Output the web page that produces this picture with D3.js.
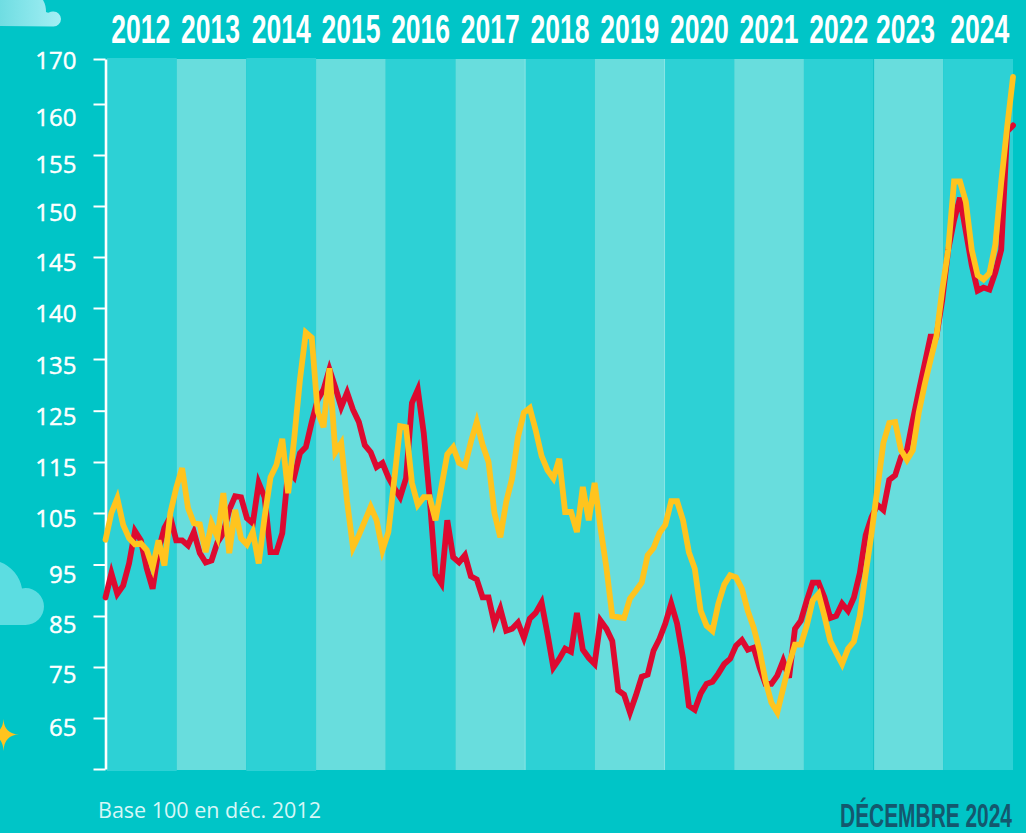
<!DOCTYPE html>
<html>
<head>
<meta charset="utf-8">
<script src="https://cdn.jsdelivr.net/npm/d3@7"></script>
<style>
  html, body { margin: 0; padding: 0; background: #00c5c7; overflow: hidden; }
  svg { display: block; }
  .head { font-family: "Liberation Sans Narrow", "Liberation Sans", sans-serif; font-weight: 700; }
  .num { font-family: "Open Sans", sans-serif; }
</style>
</head>
<body>
<div id="chart"></div>
<script>
const years = [2012, 2013, 2014, 2015, 2016, 2017, 2018, 2019, 2020, 2021, 2022, 2023, 2024];
const yTicks = [170, 160, 155, 150, 145, 140, 135, 125, 115, 105, 95, 85, 75, 65, 55];

const redValues = [
  88.6, 93.3, 89.3, 90.9, 95.2, 101.5, 99.7, 94.2, 90.3, 97.8, 102.1, 104.2,
  99.7, 99.7, 98.7, 101.3, 97.2, 95.4, 95.8, 99.3, 101.1, 105.6, 108.3, 108.1,
  104, 103, 110.9, 108.1, 97.4, 97.4, 101.1, 113.4, 112, 116.7, 117.9, 122.8,
  127.1, 129.1, 133, 129.5, 125.7, 128.5, 125.2, 122.8, 118.3, 116.9, 114, 114.8,
  112, 109.9, 108.1, 111.8, 126.5, 129.1, 120.7, 108.1, 93.1, 91.3, 103.6, 96.4,
  95.4, 96.8, 92.7, 92.1, 88.6, 88.6, 83.5, 86.4, 82.1, 82.5, 83.7, 80.7,
  84.5, 85.6, 87.6, 81.5, 74.9, 76.6, 78.6, 78, 85.6, 78.4, 76.8, 75.6,
  84.1, 82.5, 80.1, 70.4, 69.6, 66.1, 69.4, 73.1, 73.5, 78.2, 80.5, 83.5,
  87.4, 83.5, 76.8, 67.4, 66.6, 69.8, 71.7, 72.1, 73.7, 75.6, 76.6, 79.2,
  80.3, 78.4, 78.8, 74.9, 71.7, 71.7, 73.3, 76.2, 72.9, 82.5, 84.1, 88,
  91.5, 91.5, 88.6, 84.6, 85, 87.4, 86, 88.6, 93.3, 100.7, 104.2, 106.6,
  105.6, 111.5, 112.4, 116, 117.3, 123.2, 128.7, 134, 137.2, 137.2, 140.8, 145.7,
  148.6, 150.8, 147.5, 144.2, 141.7, 142, 141.8, 143.5, 145.7, 157.3, 157.9
];

const yellowValues = [
  99.8, 105, 107.9, 102.7, 100.1, 98.9, 99.1, 97.8, 94.4, 99.7, 94.8, 105,
  109.9, 113.8, 106, 103, 102.8, 97.4, 103, 100.3, 108.9, 97.2, 105.6, 100.1,
  98.9, 101.3, 95.2, 104.2, 112, 114.4, 119.5, 108.9, 119.3, 131, 137.6, 137.1,
  124.8, 121.8, 133.2, 116.9, 118.7, 107.2, 98.3, 100.7, 103.4, 106.2, 103.6, 97.8,
  101.3, 111.5, 122, 121.8, 110.9, 106.6, 108.1, 108.1, 103.6, 110.1, 116.5, 117.9,
  114.8, 114.2, 118.9, 122.8, 118.3, 115, 105, 100.3, 107.2, 111.8, 119.9, 124.6,
  125.5, 121.2, 116.2, 113.4, 111.8, 115.6, 105.2, 105.2, 101.3, 110.1, 103.6, 110.9,
  102.1, 94.4, 85, 84.8, 84.6, 88.4, 89.9, 91.5, 96.8, 98.2, 101.1, 102.7,
  107.3, 107.3, 103.6, 97.4, 94.2, 86, 83.1, 82.1, 87.4, 91.1, 92.9, 92.5,
  90.3, 86, 82.7, 78.2, 72.3, 68, 66.1, 70.8, 75.6, 79.4, 79.4, 83.1,
  88, 89.3, 85, 80.1, 77.8, 75.6, 78.6, 80, 85, 93.3, 101.1, 109.9,
  118.7, 122.6, 122.8, 117.3, 115.4, 117.3, 124.6, 130, 134.8, 137.2, 141.8, 145.7,
  152.4, 152.4, 150.4, 145.7, 143.2, 142.8, 143.4, 146.2, 152.3, 157.7, 166
];

const width = 1026;
const height = 833;

const svg = d3.select("#chart").append("svg")
  .attr("width", width)
  .attr("height", height)
  .attr("viewBox", [0, 0, width, height]);

// the printed axis is not regular: 170 to 160 is shorter, and steps are 5 then 10
const y = d3.scaleLinear()
  .domain(yTicks)
  .range([59, 104, 155, 206, 257, 308, 359, 410.7, 462, 513, 564.5, 616, 667, 718, 769]);

const x = d3.scaleLinear().domain([0, redValues.length - 1]).range([105.5, 1013]);
const band = d3.scaleBand().domain(years).range([107, 1013]);

// decoration
const defs = svg.append("defs");
const grad = defs.append("linearGradient").attr("id", "cloudTop");
grad.append("stop").attr("offset", "0%").attr("stop-color", "#6fdde2");
grad.append("stop").attr("offset", "100%").attr("stop-color", "#a3eff4");

svg.append("path")
  .attr("fill", "url(#cloudTop)")
  .attr("d", "M0,26 L0,0 L43,0 Q46,5 46,12 Q48,13 49,12.5 A7.5,7.5 0 0 1 53.5,11.5 A7.5,7.5 0 0 1 53.5,26.5 Z");
svg.append("path")
  .attr("fill", "#5cdde1")
  .attr("d", "M0,625 L0,562 A35,35 0 0 1 22,588.5 L25.5,588 A18.5,18.5 0 0 1 25.5,625 Z");
svg.append("path")
  .attr("fill", "#ffc41e")
  .attr("d", "M3.5,719 Q4.2,734 19,734.5 Q4.2,735 3.5,751 Q2.8,735 -12,734.5 Q2.8,734 3.5,719 Z");

// year bands, the dark 2012 and 2014 ones stick out by a pixel
svg.append("g")
  .selectAll("rect")
  .data(years)
  .join("rect")
  .attr("x", (d) => band(d))
  .attr("y", (d) => (d === 2012 || d === 2014 ? 58 : 59))
  .attr("width", band.bandwidth())
  .attr("height", (d) => (d === 2012 || d === 2014 ? 713 : 711))
  .attr("fill", (d, i) => (i % 2 ? "#68dddd" : "#2dd1d5"));

// hairlines left between some bands
svg.append("line")
  .attr("x1", band(2023)).attr("x2", band(2023))
  .attr("y1", 59).attr("y2", 770)
  .attr("stroke", "#14c2c6").attr("stroke-width", 1);
svg.append("g")
  .selectAll("line")
  .data([2018, 2020])
  .join("line")
  .attr("x1", (d) => band(d)).attr("x2", (d) => band(d))
  .attr("y1", 59).attr("y2", 770)
  .attr("stroke", "#8ce6e6").attr("stroke-width", 1);

// stretched narrow type stands in for the poster font
function fitText(sel, targetWidth, scaleY) {
  sel.each(function () {
    const t = d3.select(this);
    const sx = targetWidth / this.getComputedTextLength();
    t.attr("transform", `${t.attr("transform")} scale(${sx},${scaleY})`);
  });
}

const labelShift = { 2012: -1, 2013: -1, 2023: -3, 2024: 1.5 };

svg.append("g")
  .selectAll("text")
  .data(years)
  .join("text")
  .attr("class", "head")
  .attr("transform", (d) => `translate(${band(d) + band.bandwidth() / 2 + (labelShift[d] || 0)},43)`)
  .attr("text-anchor", "middle")
  .attr("font-size", 28)
  .attr("fill", "#fff")
  .text((d) => d)
  .call(fitText, 59, 1.42);

// axis
const labelDy = { 170: 1, 160: 13, 155: 9, 150: 6, 145: 5, 140: 5, 135: 6, 125: 5, 115: 5, 105: 5, 95: 10, 85: 8, 75: 7, 65: 9, 55: 0 };

const axis = svg.append("g")
  .attr("transform", "translate(105.5,0)")
  .call(
    d3.axisLeft(y)
      .tickValues(yTicks)
      .tickSize(12)
      .tickSizeOuter(0)
      .tickPadding(17)
      .tickFormat((d) => (d === 55 ? "" : d))
  );
axis.select(".domain").attr("stroke", "#fff").attr("stroke-width", 2.6);
axis.selectAll(".tick line").attr("stroke", "#fff").attr("stroke-width", 2);
axis.selectAll(".tick text")
  .attr("class", "num")
  .attr("fill", "#fff")
  .attr("stroke", "#fff")
  .attr("stroke-width", 0.45)
  .attr("font-size", 24)
  .attr("dy", "0.35em")
  .attr("transform", (d) => `translate(0,${labelDy[d]})`);

// lines
const line = d3.line().x((d, i) => x(i)).y((d) => y(d));

svg.append("path")
  .datum(redValues)
  .attr("fill", "none")
  .attr("stroke", "#dd0a30")
  .attr("stroke-width", 5.8)
  .attr("stroke-linecap", "round")
  .attr("stroke-linejoin", "miter")
  .attr("d", line);

svg.append("path")
  .datum(yellowValues)
  .attr("fill", "none")
  .attr("stroke", "#ffc41e")
  .attr("stroke-width", 5.8)
  .attr("stroke-linecap", "round")
  .attr("stroke-linejoin", "miter")
  .attr("d", line);

// footer
svg.append("text")
  .attr("class", "num")
  .attr("x", 98)
  .attr("y", 818)
  .attr("font-size", 21.5)
  .attr("fill", "#d6f7f7")
  .text("Base 100 en déc. 2012");

svg.append("text")
  .attr("class", "head")
  .attr("transform", "translate(1012,827)")
  .attr("text-anchor", "end")
  .attr("font-size", 24)
  .attr("fill", "#14586e")
  .text("DÉCEMBRE 2024")
  .call(fitText, 172, 1.42);
</script>
</body>
</html>
